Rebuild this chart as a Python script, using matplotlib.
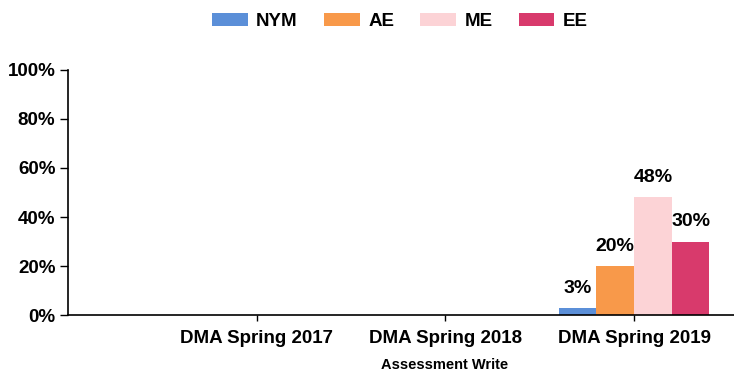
import numpy as np
import matplotlib.pyplot as plt
from matplotlib.ticker import FuncFormatter

plt.rcParams['font.family'] = ['Liberation Sans', 'DejaVu Sans']
plt.rcParams['font.weight'] = 'bold'

categories = ['DMA Spring 2017', 'DMA Spring 2018', 'DMA Spring 2019']
series = ['NYM', 'AE', 'ME', 'EE']
nym = [0, 0, 3]
ae = [0, 0, 20]
me = [0, 0, 48]
ee = [0, 0, 30]
colors = ['#5b8fd8', '#f8994a', '#fcd3d6', '#d83a6c']

fig = plt.figure(figsize=(7.34, 3.76), dpi=100)
ax = fig.add_axes([0.0926, 0.162, 0.9074, 0.652])

x = np.arange(len(categories))
width = 0.2
for i, (name, vals) in enumerate(zip(series, [nym, ae, me, ee])):
    pos = x + (i - 1.5) * width
    bars = ax.bar(pos, vals, width, color=colors[i], label=name)
    for b, v in zip(bars, vals):
        if v > 0:
            ax.annotate(f'{v}%', (b.get_x() + b.get_width() / 2, v),
                        xytext=(0, 8), textcoords='offset points',
                        ha='center', va='bottom', fontsize=14,
                        fontweight='bold')

ax.set_xlim(-1, 2.53)
ax.set_ylim(0, 100)
ax.set_yticks([0, 20, 40, 60, 80, 100])
ax.yaxis.set_major_formatter(FuncFormatter(lambda v, p: f'{v:.0f}%'))
ax.set_xticks(x)
ax.set_xticklabels(categories, fontsize=13.5, fontweight='bold')
ax.tick_params(axis='y', labelsize=13.5, length=6, width=1, pad=3)
ax.tick_params(axis='x', length=4, width=1, pad=7)
for lbl in ax.get_yticklabels():
    lbl.set_fontweight('bold')
ax.spines['top'].set_visible(False)
ax.spines['right'].set_visible(False)
ax.spines['left'].set_linewidth(1.2)
ax.spines['bottom'].set_linewidth(1.2)
ax.set_xlabel('Assessment Write', fontsize=10.5, fontweight='bold')
# label sits under the middle category, not the axes centre
ax.xaxis.set_label_coords(0.565, -0.175)

fig.legend(loc='upper center', bbox_to_anchor=(0.545, 1.01), ncol=4,
           frameon=False, fontsize=13.5, handlelength=1.9, handleheight=0.65,
           columnspacing=1.4, handletextpad=0.45)

fig.savefig('out.png', dpi=100)
